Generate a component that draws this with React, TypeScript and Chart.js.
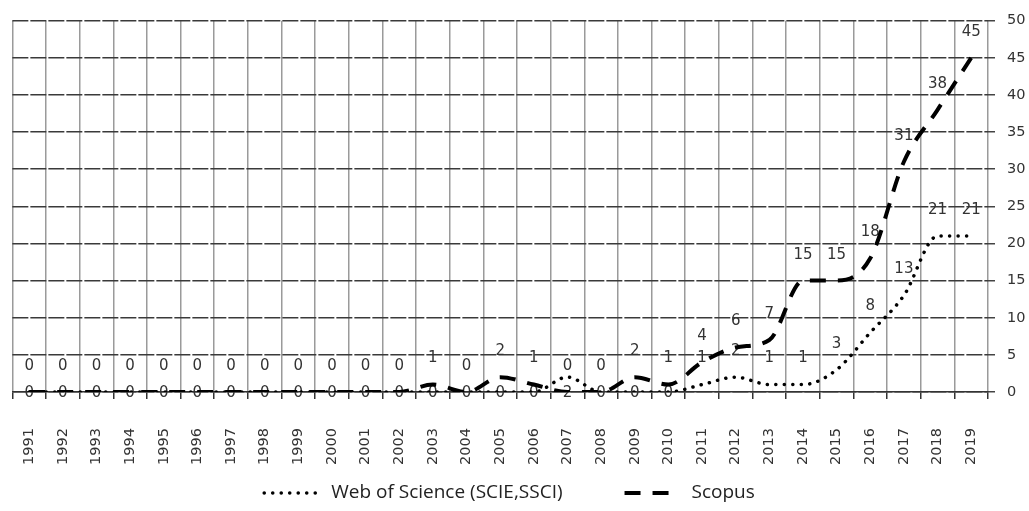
import React, { useEffect, useRef } from "react";
import { Chart, registerables } from "chart.js";

Chart.register(...registerables);

const years = [
  "1991", "1992", "1993", "1994", "1995", "1996", "1997", "1998", "1999", "2000",
  "2001", "2002", "2003", "2004", "2005", "2006", "2007", "2008", "2009", "2010",
  "2011", "2012", "2013", "2014", "2015", "2016", "2017", "2018", "2019",
];

const wosValues = [
  0, 0, 0, 0, 0, 0, 0, 0, 0, 0,
  0, 0, 0, 0, 0, 0, 2, 0, 0, 0,
  1, 2, 1, 1, 3, 8, 13, 21, 21,
];

const scopusValues = [
  0, 0, 0, 0, 0, 0, 0, 0, 0, 0,
  0, 0, 1, 0, 2, 1, 0, 0, 2, 1,
  4, 6, 7, 15, 15, 18, 31, 38, 45,
];

const yTickValues = [0, 5, 10, 15, 20, 25, 30, 35, 40, 45, 50];

const seriesNames = ["Web of Science (SCIE,SSCI)", "Scopus"];

const TEXT_FONT = "DejaVu Sans";
const LEGEND_FONT = "Open Sans";

const valueLabelPlugin = {
  id: "valueLabels",
  beforeDatasetsDraw(chart: any) {
    const ctx = chart.ctx;
    const yScale = chart.scales.y;
    ctx.save();
    ctx.font = `15px "${TEXT_FONT}"`;
    ctx.fillStyle = "#333333";
    ctx.textAlign = "center";
    ctx.textBaseline = "middle";
    chart.data.datasets.forEach((ds: any, di: number) => {
      const meta = chart.getDatasetMeta(di);
      meta.data.forEach((pt: any, i: number) => {
        const v = ds.data[i];
        let y: number;
        if (di === 0 && Number(years[i]) <= 2010) {
          y = yScale.getPixelForValue(0) + 1;
        } else {
          y = pt.y - 26;
        }
        ctx.fillText(String(v), pt.x, y);
      });
    });
    ctx.restore();
  },
};

const customLegendPlugin = {
  id: "customLegend",
  afterDraw(chart: any) {
    const ctx = chart.ctx;
    const datasets = chart.data.datasets;
    const markerW = [52, 45];
    const markerGap = [15, 22];
    const itemGap = 62;
    ctx.save();
    ctx.font = `19px "${LEGEND_FONT}"`;
    const widths = datasets.map((d: any) => ctx.measureText(d.label).width);
    let total = 0;
    datasets.forEach((_: any, i: number) => {
      total += markerW[i] + markerGap[i] + widths[i];
      if (i < datasets.length - 1) total += itemGap;
    });
    let x = (chart.width - total) / 2 - 5;
    const y = 493;
    datasets.forEach((d: any, i: number) => {
      ctx.save();
      ctx.strokeStyle = d.borderColor;
      ctx.lineWidth = d.borderWidth;
      ctx.lineCap = d.borderCapStyle || "butt";
      ctx.setLineDash(d.borderDash || []);
      ctx.beginPath();
      ctx.moveTo(x, y);
      ctx.lineTo(x + markerW[i], y);
      ctx.stroke();
      ctx.restore();
      x += markerW[i] + markerGap[i];
      ctx.fillStyle = "#222222";
      ctx.textAlign = "left";
      ctx.textBaseline = "middle";
      ctx.fillText(d.label, x, y);
      x += widths[i] + itemGap;
    });
    ctx.restore();
  },
};

export default function App() {
  const canvasRef = useRef<HTMLCanvasElement | null>(null);

  useEffect(() => {
    document.body.style.margin = "0";
    if (!canvasRef.current) return;
    const chart = new Chart(canvasRef.current, {
      type: "line",
      data: {
        labels: years,
        datasets: [
          {
            label: seriesNames[0],
            data: wosValues,
            borderColor: "#000000",
            borderWidth: 3.5,
            borderDash: [0.1, 8.4],
            borderCapStyle: "round",
            pointRadius: 0,
            fill: false,
            cubicInterpolationMode: "monotone",
          },
          {
            label: seriesNames[1],
            data: scopusValues,
            borderColor: "#000000",
            borderWidth: 4,
            borderDash: [16, 12],
            borderCapStyle: "butt",
            pointRadius: 0,
            fill: false,
            cubicInterpolationMode: "monotone",
          },
        ],
      },
      options: {
        animation: false,
        responsive: true,
        maintainAspectRatio: false,
        layout: { padding: { left: 10, top: 19, right: 0, bottom: 0 } },
        plugins: {
          legend: { display: false },
          tooltip: { enabled: false },
        },
        scales: {
          x: {
            type: "category",
            offset: true,
            grid: {
              offset: true,
              color: "#9a9a9a",
              lineWidth: 1.5,
              tickColor: "#333333",
              tickLength: 7,
              drawTicks: true,
            },
            border: { display: true, color: "#333333", width: 1.5 },
            ticks: {
              autoSkip: false,
              minRotation: 90,
              maxRotation: 90,
              padding: 29,
              color: "#333333",
              font: { family: TEXT_FONT, size: 14.5 },
            },
            afterFit(scale: any) {
              scale.height = 119;
            },
          },
          y: {
            position: "right",
            min: 0,
            max: 50,
            afterBuildTicks(scale: any) {
              scale.ticks = yTickValues.map((v) => ({ value: v }));
            },
            grid: {
              color: "#3a3a3a",
              lineWidth: 1.5,
              tickColor: "#444444",
              tickLength: 7,
            },
            border: { display: false, dash: [16, 2] },
            ticks: {
              padding: 12,
              color: "#333333",
              font: { family: TEXT_FONT, size: 14.5 },
            },
            afterFit(scale: any) {
              scale.width = 41;
            },
          },
        },
      },
      plugins: [valueLabelPlugin, customLegendPlugin],
    } as any);
    return () => chart.destroy();
  }, []);

  return (
    <div style={{ width: 1029, height: 511, position: "relative" }}>
      <canvas ref={canvasRef} />
    </div>
  );
}
